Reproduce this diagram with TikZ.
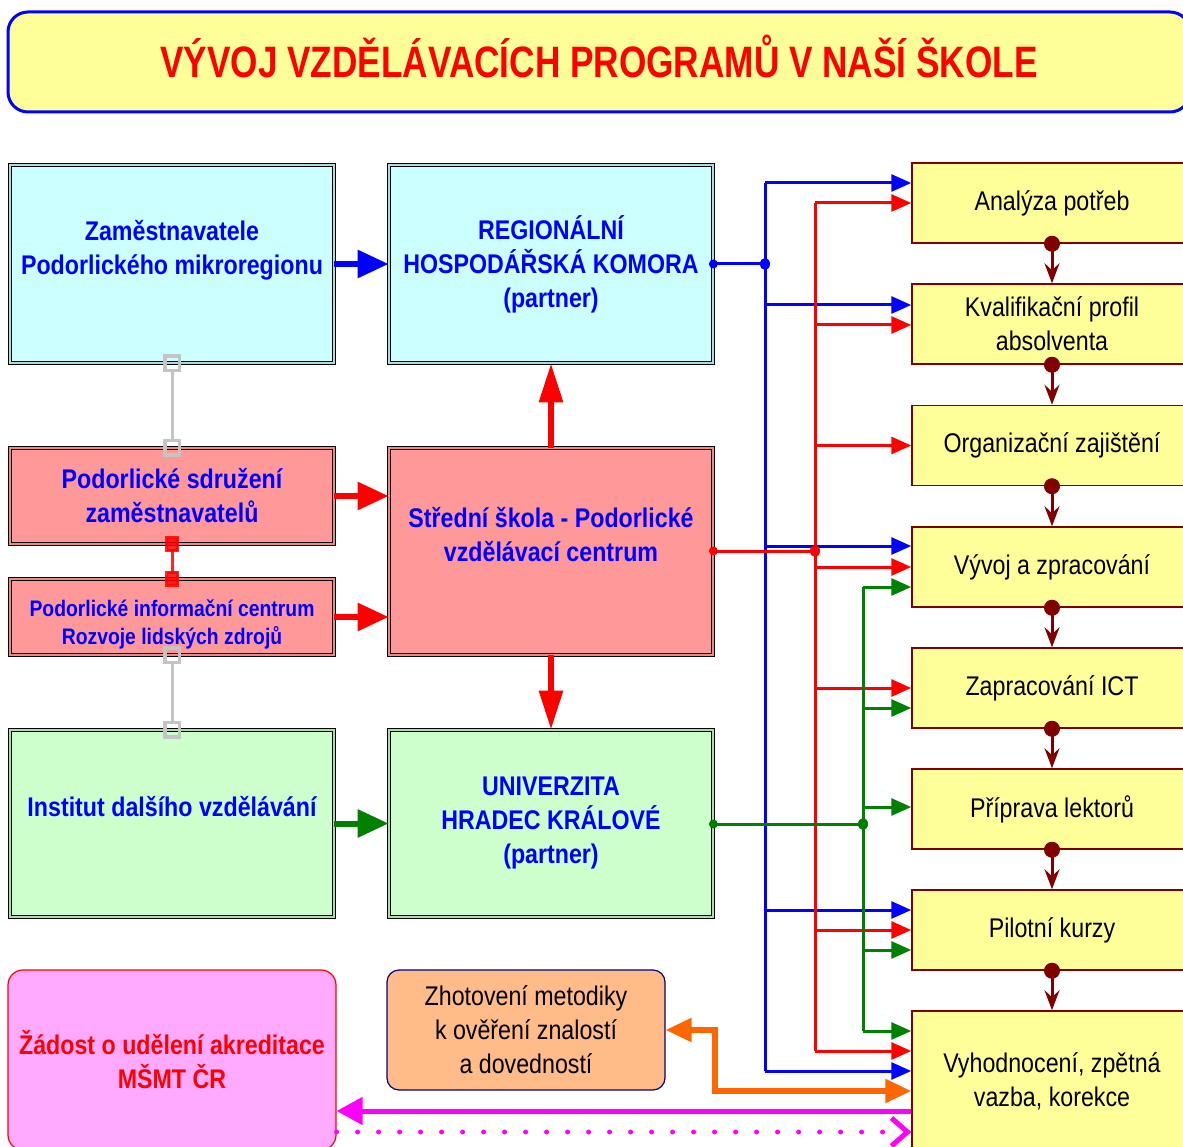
\documentclass[tikz,border=0pt]{standalone}
\usepackage{fontspec}
\setmainfont{Liberation Sans}
\newfontfamily\nar[FakeStretch=0.86]{Liberation Sans}
\newfontfamily\tnar[FakeStretch=0.8]{Liberation Sans}
\usetikzlibrary{arrows.meta,calc}
\definecolor{cyanF}{HTML}{CCFFFF}
\definecolor{cyanD}{HTML}{A8E0E0}
\definecolor{pinkF}{HTML}{FF9999}
\definecolor{pinkD}{HTML}{F08888}
\definecolor{greenF}{HTML}{CCFFCC}
\definecolor{greenD}{HTML}{A8E0A8}
\definecolor{yelF}{HTML}{FFFF99}
\definecolor{magF}{HTML}{FFAAFF}
\definecolor{oraF}{HTML}{FFBB88}
\definecolor{dred}{HTML}{800000}
\definecolor{dgreen}{HTML}{008000}
\definecolor{ora}{HTML}{FF6600}
\definecolor{navy}{HTML}{000080}
\definecolor{grayC}{HTML}{C4C4C4}
\definecolor{mag}{HTML}{FF00FF}
\tikzset{
  lbox/.style={draw=black, line width=0.8pt, double distance=2.4pt, inner sep=0pt,
    align=center, text=blue, font=\nar\bfseries\fontsize{27}{34}\selectfont,
    minimum width=324pt},
  ybox/.style={draw=dred, line width=1.5pt, fill=yelF, inner sep=0pt, align=center,
    font=\nar\fontsize{27}{34}\selectfont, minimum width=280pt, minimum height=80pt},
  bigh/.style={line width=6pt, -{Triangle[length=31pt,width=27pt]}},
  bigv/.style={line width=6pt, -{Triangle[length=39pt,width=23pt]}},
  conn/.style={line width=3pt},
  tipa/.style={conn, -{Triangle[length=20pt,width=17pt]}},
  lolly/.style={dred, line width=3pt, shorten <=-8pt,
    {Circle[length=16pt]}-{Stealth[length=20pt,width=15pt,inset=7pt]}},
  graylink/.style={grayC, line width=3pt, shorten <=-9pt, shorten >=-9pt,
    {Square[open,length=18pt,width=18pt,line width=3.5pt]}-{Square[open,length=18pt,width=18pt,line width=3.5pt]}},
  redlink/.style={red, opacity=0.85, line width=3pt, shorten <=-8pt, shorten >=-8pt,
    {Square[length=16pt,width=14pt]}-{Square[length=16pt,width=14pt]}},
}
\begin{document}
\begin{tikzpicture}[x=1pt,y=-1pt]
\useasboundingbox (0,0) rectangle (1183,1147);
\clip (0,0) rectangle (1183,1147);
% title
\node[draw=blue, line width=3pt, fill=yelF, rounded corners=20pt, minimum width=1182pt,
  minimum height=100pt, text height=32pt, text depth=0pt, text=red,
  font=\tnar\bfseries\fontsize{44}{50}\selectfont]
  (title) at (599,62) {VÝVOJ VZDĚLÁVACÍCH PROGRAMŮ V NAŠÍ ŠKOLE};
% left and central boxes
\node[lbox, fill=cyanF, double=cyanD, minimum height=198pt] (b1) at (172,264)
  {Zaměstnavatele\\Podorlického mikroregionu\\\mbox{}};
\node[lbox, fill=cyanF, double=cyanD, minimum height=198pt] (b2) at (551,264)
  {REGIONÁLNÍ\\HOSPODÁŘSKÁ KOMORA\\(partner)};
\node[lbox, fill=pinkF, double=pinkD, minimum height=96pt] (b3) at (172,496)
  {Podorlické sdružení\\zaměstnavatelů};
\node[lbox, fill=pinkF, double=pinkD, minimum height=76pt,
  font=\nar\bfseries\fontsize{22.5}{28}\selectfont] (b4) at (172,617)
  {\rule{0pt}{32pt}Podorlické informační centrum\\Rozvoje lidských zdrojů};
\node[lbox, fill=pinkF, double=pinkD, minimum height=207pt] (b5) at (551,551.5)
  {Střední škola - Podorlické\\vzdělávací centrum\\\mbox{}};
\node[lbox, fill=greenF, double=greenD, minimum height=187pt] (b6) at (172,823.5)
  {Institut dalšího vzdělávání\\\mbox{}};
\node[lbox, fill=greenF, double=greenD, minimum height=187pt] (b7) at (551,823.5)
  {UNIVERZITA\\HRADEC KRÁLOVÉ\\(partner)};
\node[draw=red, line width=1.2pt, fill=magF, rounded corners=15pt, minimum width=328pt,
  minimum height=180pt, align=center, text=red, font=\nar\bfseries\fontsize{27}{34}\selectfont]
  (zd) at (172,1060) {Žádost o udělení akreditace\\MŠMT ČR};
\node[draw=navy, line width=1.2pt, fill=oraF, rounded corners=12pt, minimum width=278pt,
  minimum height=120pt, align=center, font=\nar\fontsize{27}{34}\selectfont]
  (zh) at (526,1030) {Zhotovení metodiky\\k ověření znalostí\\a dovedností};
% right column
\node[ybox] (y1) at (1052,203) {Analýza potřeb};
\node[ybox] (y2) at (1052,324) {Kvalifikační profil\\absolventa};
\node[ybox] (y3) at (1052,445.5) {Organizační zajištění};
\node[ybox] (y4) at (1052,567) {Vývoj a zpracování};
\node[ybox] (y5) at (1052,688) {Zapracování ICT};
\node[ybox] (y6) at (1052,809) {Příprava lektorů};
\node[ybox] (y7) at (1052,930) {Pilotní kurzy};
\node[ybox, minimum height=140pt] (y8) at (1052,1081) {Vyhodnocení, zpětná\\vazba, korekce};
% sequence links
\foreach \a/\b in {y1/y2,y2/y3,y3/y4,y4/y5,y5/y6,y6/y7,y7/y8}
  \draw[lolly] (\a.south) -- (\b.north);
% left links
\draw[graylink] (b1.south) -- (b3.north);
\draw[graylink] (b4.south) -- (b6.north);
\draw[redlink] (b3.south) -- (b4.north);
% thick arrows
\draw[bigh, blue] (b1.east) -- (b2.west);
\draw[bigh, red] (b3.east) -- (b3.east -| b5.west);
\draw[bigh, red] (b4.east) -- (b4.east -| b5.west);
\draw[bigh, dgreen] (b6.east) -- (b7.west);
\draw[bigv, red] (b5.north) -- (b2.south);
\draw[bigv, red] (b5.south) -- (b7.north);
% junctions
\coordinate (jb) at (765,264);
\coordinate (jr) at (815,551);
\coordinate (jg) at (863,824);
% branch target points
\coordinate (b1t) at ($(y1.west)+(0,-20)$);
\coordinate (b2t) at ($(y2.west)+(0,-19)$);
\coordinate (b4t) at ($(y4.west)+(0,-21)$);
\coordinate (b7t) at ($(y7.west)+(0,-20)$);
\coordinate (b8t) at ($(y8.west)+(0,-10)$);
\coordinate (r1t) at (y1.west);
\coordinate (r2t) at ($(y2.west)+(0,1)$);
\coordinate (r3t) at (y3.west);
\coordinate (r4t) at (y4.west);
\coordinate (r5t) at (y5.west);
\coordinate (r7t) at (y7.west);
\coordinate (r8t) at ($(y8.west)+(0,-30)$);
\coordinate (g4t) at ($(y4.west)+(0,20)$);
\coordinate (g5t) at ($(y5.west)+(0,20)$);
\coordinate (g6t) at ($(y6.west)+(0,-2)$);
\coordinate (g7t) at ($(y7.west)+(0,20)$);
\coordinate (g8t) at ($(y8.west)+(0,-50)$);
% blue
\draw[conn, blue] (b2.east) -- (jb);
\draw[conn, blue] (jb |- b1t) -- (jb |- b8t);
\foreach \t in {b1t,b2t,b4t,b7t,b8t} \draw[tipa, blue] (jb |- \t) -- (\t);
\fill[blue] (b2.east) circle (4.5pt);
\fill[blue] (jb) ellipse (5pt and 6pt);
% red
\draw[conn, red] (b5.east |- jr) -- (jr);
\draw[conn, red] (jr |- r1t) -- (jr |- r8t);
\foreach \t in {r1t,r2t,r3t,r4t,r5t,r7t,r8t} \draw[tipa, red] (jr |- \t) -- (\t);
\fill[red] (b5.east |- jr) circle (4.5pt);
\fill[red] (jr) ellipse (5pt and 6pt);
% green
\draw[conn, dgreen] (b7.east |- jg) -- (jg);
\draw[conn, dgreen] (jg |- g4t) -- (jg |- g8t);
\foreach \t in {g4t,g5t,g6t,g7t,g8t} \draw[tipa, dgreen] (jg |- \t) -- (\t);
\fill[dgreen] (b7.east |- jg) circle (4.5pt);
\fill[dgreen] (jg) ellipse (5pt and 6pt);
% orange
\coordinate (oc) at (715,1091);
\draw[ora, line width=5.5pt, {Triangle[length=26pt,width=23pt]}-{Triangle[length=26pt,width=23pt]}]
  (zh.east) -| (oc) -- (oc -| y8.west);
% magenta
\coordinate (ms) at (0,1111);
\coordinate (md) at (0,1132);
\draw[mag, line width=5pt, -{Triangle[length=26pt,width=27pt]}] (ms -| y8.west) -- (ms -| zd.east);
\draw[mag, line width=5pt, line cap=round, dash pattern=on 0pt off 21pt] (md -| zd.east) -- ($(md -| y8.west)+(-22,0)$);
\draw[mag, line width=5pt, -{Straight Barb[length=16pt,width=28pt,line width=5pt]}] ($(md -| y8.west)+(-6,0)$) -- (md -| y8.west);
\end{tikzpicture}
\end{document}
